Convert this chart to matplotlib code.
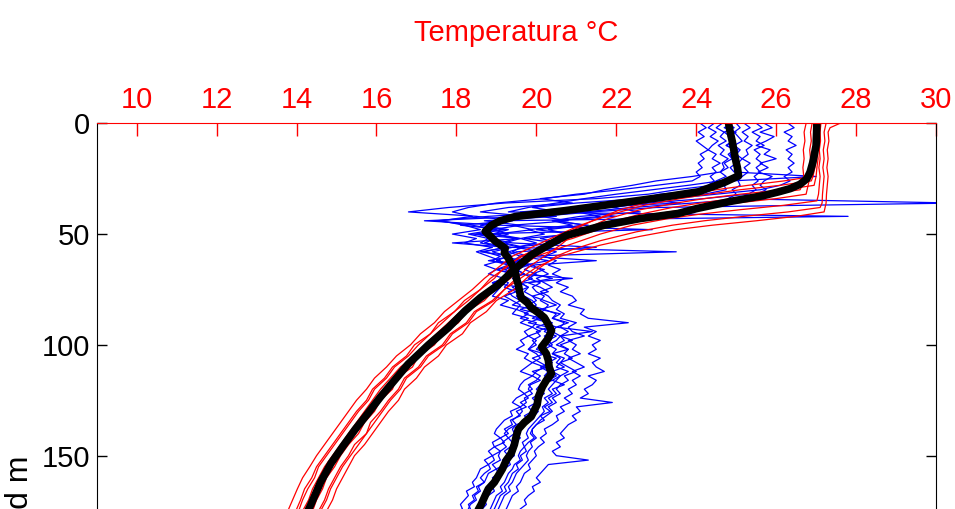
import numpy as np
import matplotlib
matplotlib.use("Agg")
import matplotlib.pyplot as plt

plt.rcParams['font.family'] = ['Liberation Sans', 'DejaVu Sans']

# temperature profiles (depth m, temperature C)
red_1 = [(0, 27.08), (4, 27.05), (8, 27.06), (12, 27.03), (16, 27.05), (20, 27.02), (24, 27.0), (28, 26.95),
         (30, 26.2), (32, 25.1), (34, 24.2), (36, 23.5), (39, 22.6), (43, 21.8), (48, 21.2), (52, 20.8),
         (55, 20.6), (60, 20.2), (65, 19.8), (70, 19.5), (75, 19.2), (80, 18.9), (85, 18.45), (90, 18.25),
         (95, 17.85), (100, 17.65), (105, 17.25), (110, 17.05), (115, 16.7), (120, 16.55), (125, 16.3),
         (130, 16.1), (135, 15.85), (140, 15.75), (145, 15.45), (150, 15.3), (155, 15.1), (160, 14.95),
         (165, 14.8), (170, 14.7), (175, 14.55), (180, 14.45)]
red_2 = [(0, 26.9), (4, 26.86), (8, 26.88), (12, 26.84), (16, 26.86), (20, 26.83), (24, 26.85), (28, 26.8),
         (32, 26.75), (34, 26.0), (36, 25.0), (38, 24.1), (40, 23.3), (43, 22.5), (47, 21.7), (52, 20.9),
         (55, 20.3), (60, 19.6), (65, 19.25), (70, 18.85), (75, 18.6), (80, 18.2), (85, 17.95), (90, 17.55),
         (95, 17.35), (100, 16.95), (105, 16.75), (110, 16.4), (115, 16.2), (120, 15.9), (125, 15.75),
         (130, 15.5), (135, 15.3), (140, 15.1), (145, 14.9), (150, 14.7), (155, 14.5), (160, 14.38),
         (165, 14.2), (170, 14.1), (175, 13.98), (180, 13.85)]
red_3 = [(0, 27.25), (4, 27.2), (8, 27.22), (12, 27.18), (16, 27.2), (20, 27.17), (24, 27.2), (28, 27.18),
         (32, 27.16), (36, 27.15), (38, 27.1), (40, 26.3), (42, 25.2), (44, 24.2), (46, 23.4), (49, 22.5),
         (53, 21.6), (57, 20.9), (60, 20.5), (65, 20.1), (70, 19.75), (75, 19.45), (80, 19.0), (85, 18.75),
         (90, 18.35), (95, 18.15), (100, 17.75), (105, 17.55), (110, 17.2), (115, 17.0), (120, 16.7),
         (125, 16.55), (130, 16.3), (135, 16.1), (140, 15.9), (145, 15.7), (150, 15.45), (155, 15.3),
         (160, 15.15), (165, 15.0), (170, 14.9), (175, 14.75), (180, 14.65)]
red_4 = [(0, 27.0), (4, 26.96), (8, 26.98), (12, 26.94), (16, 26.96), (20, 26.93), (24, 26.92), (26, 26.88),
         (28, 26.1), (30, 25.1), (32, 24.3), (34, 23.6), (37, 22.7), (41, 21.9), (46, 21.1), (50, 20.6),
         (55, 20.0), (60, 19.4), (65, 19.05), (70, 18.7), (75, 18.4), (80, 18.05), (85, 17.7), (90, 17.45),
         (95, 17.1), (100, 16.85), (105, 16.5), (110, 16.25), (115, 15.95), (120, 15.75), (125, 15.5),
         (130, 15.3), (135, 15.1), (140, 14.9), (145, 14.7), (150, 14.5), (155, 14.33), (160, 14.15),
         (165, 14.02), (170, 13.9), (175, 13.78), (180, 13.65)]
red_5 = [(0, 27.12), (4, 27.1), (8, 27.11), (12, 27.08), (16, 27.1), (20, 27.07), (24, 27.1), (28, 27.08),
         (32, 27.06), (35, 27.02), (37, 26.2), (39, 25.1), (41, 24.1), (43, 23.3), (46, 22.4), (50, 21.6),
         (55, 20.8), (60, 20.0), (65, 19.6), (70, 19.35), (75, 18.95), (80, 18.7), (85, 18.25), (90, 18.05),
         (95, 17.65), (100, 17.45), (105, 17.05), (110, 16.9), (115, 16.5), (120, 16.4), (125, 16.1),
         (130, 15.95), (135, 15.7), (140, 15.55), (145, 15.3), (150, 15.1), (155, 14.95), (160, 14.75),
         (165, 14.65), (170, 14.5), (175, 14.4), (180, 14.25)]
red_6 = [(0, 26.75), (4, 26.7), (8, 26.72), (12, 26.68), (16, 26.7), (20, 26.67), (24, 26.69), (28, 26.65),
         (30, 26.6), (32, 25.8), (34, 24.9), (36, 24.1), (38, 23.4), (41, 22.6), (45, 21.8), (50, 21.0),
         (55, 20.4), (60, 19.8), (65, 19.35), (70, 19.15), (75, 18.8), (80, 18.45), (85, 18.1), (90, 17.8),
         (95, 17.5), (100, 17.2), (105, 16.95), (110, 16.6), (115, 16.35), (120, 16.1), (125, 15.9),
         (130, 15.7), (135, 15.5), (140, 15.3), (145, 15.1), (150, 14.9), (155, 14.7), (160, 14.55),
         (165, 14.4), (170, 14.3), (175, 14.15), (180, 14.05)]
red_7 = [(0, 27.6), (2, 27.35), (4, 27.3), (8, 27.32), (12, 27.28), (16, 27.3), (20, 27.27), (24, 27.3),
         (28, 27.28), (32, 27.26), (36, 27.25), (40, 27.2), (42, 26.5), (44, 25.5), (46, 24.4), (48, 23.5),
         (51, 22.6), (55, 21.6), (60, 20.6), (65, 20.0), (70, 19.6), (75, 19.2), (80, 18.95), (85, 18.5),
         (90, 18.3), (95, 17.9), (100, 17.7), (105, 17.3), (110, 17.1), (115, 16.75), (120, 16.6),
         (125, 16.35), (130, 16.15), (135, 15.95), (140, 15.75), (145, 15.55), (150, 15.35), (155, 15.15),
         (160, 15.0), (165, 14.85), (170, 14.75), (175, 14.6), (180, 14.5)]
red_8 = [(0, 27.05), (4, 27.0), (8, 27.02), (12, 26.98), (16, 27.0), (20, 26.97), (24, 26.92), (26, 26.2),
         (28, 25.3), (30, 24.5), (32, 23.8), (35, 22.9), (39, 22.1), (44, 21.4), (50, 20.7), (55, 20.15),
         (60, 19.65), (65, 19.2), (70, 18.95), (75, 18.6), (80, 18.3), (85, 17.95), (90, 17.65), (95, 17.35),
         (100, 17.05), (105, 16.8), (110, 16.45), (115, 16.25), (120, 15.95), (125, 15.8), (130, 15.55),
         (135, 15.35), (140, 15.15), (145, 14.95), (150, 14.75), (155, 14.55), (160, 14.45), (165, 14.28),
         (170, 14.15), (175, 14.05), (180, 13.9)]
red_profiles = [red_1, red_2, red_3, red_4, red_5, red_6, red_7, red_8]

red_mean = [(0, 27.02), (10, 27.0), (17.5, 26.92), (22, 26.85), (25, 26.77), (27.5, 26.6), (29.5, 26.35),
            (31, 26.05), (32.7, 25.67), (34, 25.25), (35.3, 24.84), (37, 24.4), (38.5, 24.01), (40.7, 23.55),
            (43, 22.6), (46, 21.7), (50.6, 20.75), (55, 20.3), (59.5, 19.87), (66, 19.45), (73, 19.04),
            (78.7, 18.6), (84.6, 18.22), (92.2, 17.8), (100, 17.3), (108.7, 16.79), (116, 16.45),
            (123.5, 16.1), (131, 15.78), (138.3, 15.46), (146, 15.15), (153.5, 14.86), (162, 14.6),
            (172, 14.36), (180, 14.15)]

# second set of profiles, sampled every 2 m
blue_depth = list(range(0, 182, 2))
blue_1 = [24.1, 24.25, 24.05, 24.2, 24.0, 24.15, 24.3, 24.1, 24.2, 24.05,
          24.15, 24.0, 24.1, 23.9, 23.0, 22.1, 21.0, 20.2, 19.0, 18.3,
          17.9, 18.4, 17.6, 18.2, 18.6, 17.9, 18.5, 18.2, 18.9, 18.5,
          18.8, 19.1, 18.7, 19.0, 18.8, 19.2, 18.9, 19.1, 19.0, 18.9,
          19.3, 19.1, 19.5, 19.4, 19.8, 19.6, 19.9, 19.7, 19.8, 19.6,
          19.7, 19.5, 19.8, 19.7, 19.9, 19.75, 19.6, 19.9, 19.7, 19.6,
          19.55, 19.7, 19.5, 19.4, 19.6, 19.35, 19.4, 19.2, 19.1, 19.0,
          18.95, 19.1, 18.9, 18.95, 18.8, 18.9, 18.7, 18.8, 18.6, 18.55,
          18.5, 18.4, 18.45, 18.25, 18.3, 18.2, 18.1, 18.15, 17.95, 17.9,
          17.85]
blue_2 = [24.45, 24.3, 24.5, 24.35, 24.55, 24.4, 24.3, 24.5, 24.4, 24.6,
          24.4, 24.5, 24.35, 24.45, 24.3, 24.2, 23.1, 22.6, 21.0, 19.9,
          20.6, 18.8, 17.5, 18.4, 19.0, 18.3, 18.8, 18.6, 19.2, 18.7,
          19.1, 18.9, 19.3, 19.0, 19.4, 19.1, 19.3, 19.2, 19.5, 19.2,
          19.4, 19.6, 19.5, 19.8, 19.6, 20.0, 19.9, 20.1, 19.8, 20.0,
          19.9, 19.8, 20.0, 20.1, 19.9, 20.2, 20.0, 19.9, 20.1, 19.85,
          19.8, 19.9, 19.7, 19.75, 19.6, 19.65, 19.55, 19.4, 19.5, 19.3,
          19.2, 19.3, 19.15, 19.25, 19.1, 19.05, 19.1, 18.9, 19.0, 18.8,
          18.75, 18.7, 18.55, 18.6, 18.45, 18.5, 18.35, 18.3, 18.25, 18.1,
          18.05]
blue_3 = [24.65, 24.5, 24.7, 24.6, 24.75, 24.55, 24.7, 24.6, 24.8, 24.65,
          24.7, 24.6, 24.75, 24.5, 24.4, 23.5, 22.8, 21.5, 19.2, 17.8,
          16.8, 18.5, 19.4, 18.1, 19.2, 18.5, 19.0, 18.7, 19.4, 18.9,
          19.3, 19.0, 19.6, 19.2, 19.5, 20.9, 19.7, 19.4, 19.6, 19.5,
          19.7, 19.9, 19.6, 20.1, 19.9, 20.3, 20.0, 20.4, 20.2, 20.3,
          20.1, 20.0, 20.3, 20.2, 20.4, 20.1, 20.3, 20.2, 20.4, 20.1,
          20.0, 20.1, 19.9, 20.0, 19.8, 19.9, 19.7, 19.8, 19.5, 19.4,
          19.45, 19.3, 19.4, 19.35, 19.2, 19.3, 19.15, 19.2, 19.0, 19.05,
          18.9, 19.0, 18.8, 18.7, 18.75, 18.6, 18.65, 18.5, 18.45, 18.4,
          18.3]
blue_4 = [24.8, 24.95, 24.7, 24.85, 24.9, 24.75, 24.95, 24.8, 24.9, 25.0,
          24.85, 24.95, 27.0, 24.9, 24.7, 24.75, 24.2, 22.5, 23.6, 21.0,
          19.6, 20.5, 18.7, 19.6, 18.9, 19.3, 18.8, 19.4, 21.5, 19.5,
          19.2, 19.6, 19.3, 19.5, 19.7, 19.4, 19.6, 19.8, 19.5, 19.7,
          19.9, 20.0, 19.8, 20.2, 20.0, 20.4, 20.3, 20.2, 20.5, 20.3,
          20.4, 20.2, 20.1, 20.5, 20.3, 20.2, 20.4, 20.5, 20.3, 20.2,
          20.1, 20.2, 20.0, 20.1, 19.9, 20.05, 19.95, 19.8, 19.7, 19.6,
          19.5, 19.6, 19.45, 19.5, 19.4, 19.45, 19.3, 19.35, 19.2, 19.1,
          19.05, 19.0, 18.9, 18.95, 18.8, 18.7, 18.75, 18.65, 18.55, 18.5,
          18.45]
blue_5 = [25.0, 25.1, 24.95, 25.05, 25.15, 24.95, 25.1, 25.0, 25.15, 25.05,
          25.1, 25.0, 25.15, 25.05, 25.1, 24.9, 25.0, 24.8, 30.5, 23.0,
          21.4, 20.1, 20.8, 19.4, 19.9, 19.0, 19.6, 19.2, 19.7, 19.3,
          19.6, 19.4, 19.8, 19.5, 19.7, 19.9, 19.6, 19.8, 19.7, 19.9,
          20.0, 19.8, 20.2, 20.1, 20.3, 20.2, 20.5, 20.4, 20.6, 20.5,
          20.3, 20.5, 20.4, 20.6, 20.5, 20.7, 20.4, 20.6, 20.5, 20.4,
          20.3, 20.4, 20.2, 20.3, 20.15, 20.2, 20.1, 20.0, 19.9, 19.8,
          19.75, 19.8, 19.65, 19.7, 19.6, 19.55, 19.6, 19.45, 19.4, 19.3,
          19.25, 19.2, 19.1, 19.15, 19.0, 18.95, 18.9, 18.85, 18.8, 18.7,
          18.65]
blue_6 = [25.2, 25.35, 25.15, 25.3, 25.2, 25.4, 25.25, 25.3, 25.15, 25.35,
          25.2, 25.3, 25.15, 24.6, 23.8, 22.9, 22.0, 21.2, 20.5, 19.8,
          19.3, 27.8, 19.0, 18.6, 19.3, 18.9, 19.5, 19.1, 19.6, 19.4,
          19.8, 19.5, 19.9, 19.7, 20.0, 19.8, 20.1, 19.9, 20.0, 20.2,
          20.1, 20.3, 20.2, 20.5, 20.4, 20.7, 20.6, 20.8, 20.6, 20.9,
          20.6, 20.8, 20.7, 20.9, 20.6, 20.8, 21.0, 20.7, 20.8, 20.6,
          20.5, 20.6, 20.4, 20.5, 20.3, 20.4, 20.25, 20.1, 20.0, 19.9,
          19.9, 20.0, 19.85, 19.9, 19.8, 19.75, 19.8, 19.7, 19.6, 19.5,
          19.45, 19.4, 19.3, 19.35, 19.2, 19.15, 19.1, 19.05, 18.95, 18.9,
          18.85]
blue_7 = [25.5, 25.65, 25.4, 25.6, 25.5, 25.7, 25.45, 25.6, 25.5, 25.65,
          25.5, 25.6, 25.45, 25.55, 25.4, 25.5, 25.3, 24.2, 22.8, 21.9,
          22.6, 21.1, 20.4, 20.9, 19.8, 20.2, 19.6, 20.0, 19.5, 20.1,
          19.8, 21.5, 19.9, 20.1, 20.3, 20.0, 20.2, 20.4, 20.1, 20.3,
          20.4, 20.6, 20.5, 20.7, 20.6, 21.0, 20.8, 20.9, 21.2, 20.8,
          21.0, 20.9, 21.1, 20.8, 21.0, 21.2, 20.9, 21.1, 20.9, 21.0,
          20.8, 20.9, 20.7, 20.85, 20.6, 20.7, 20.5, 20.55, 20.4, 20.2,
          20.25, 20.1, 20.2, 20.05, 19.95, 20.0, 19.9, 19.8, 19.85, 19.7,
          19.65, 19.6, 19.5, 19.55, 19.4, 19.35, 19.3, 19.25, 19.15, 19.1,
          19.05]
blue_8 = [26.3, 26.45, 26.2, 26.4, 26.3, 26.5, 26.25, 26.4, 26.3, 26.45,
          26.3, 26.4, 26.2, 26.35, 26.1, 25.6, 24.5, 23.4, 22.6, 21.6,
          21.0, 21.6, 20.5, 21.2, 20.3, 20.8, 20.1, 20.6, 20.0, 20.5,
          20.2, 20.5, 20.3, 20.6, 20.4, 20.7, 20.5, 20.8, 20.6, 20.9,
          21.0, 20.8, 21.2, 21.1, 21.3, 22.3, 21.2, 21.5, 21.3, 21.6,
          21.4, 21.5, 21.3, 21.6, 21.4, 21.5, 21.7, 21.3, 21.5, 21.4,
          21.2, 21.3, 21.1, 21.9, 21.0, 21.1, 20.9, 21.0, 20.8, 20.7,
          20.6, 20.7, 20.5, 20.6, 20.4, 20.5, 21.3, 20.3, 20.2, 20.1,
          20.0, 20.1, 19.9, 19.95, 19.8, 19.7, 19.75, 19.6, 19.5, 19.45,
          19.4]
blue_9 = [24.9, 24.7, 25.0, 24.8, 24.95, 24.75, 25.05, 24.85, 24.9, 24.7,
          24.8, 24.6, 23.9, 23.0, 22.4, 21.7, 21.2, 20.1, 20.9, 19.3,
          18.6, 19.8, 17.2, 19.1, 22.9, 18.4, 19.6, 17.9, 19.3, 18.6,
          19.4, 18.8, 19.6, 19.0, 19.5, 19.2, 18.9, 19.6, 19.3, 19.4,
          19.6, 19.4, 19.9, 19.7, 20.1, 19.8, 20.3, 20.0, 20.1, 19.9,
          20.0, 19.8, 20.2, 19.9, 20.1, 20.3, 19.9, 20.1, 20.0, 19.8,
          19.9, 19.7, 19.8, 19.6, 19.75, 19.5, 19.6, 19.35, 19.4, 19.2,
          19.3, 19.1, 19.2, 18.95, 19.1, 18.9, 18.95, 18.8, 18.85, 18.7,
          18.6, 18.7, 18.5, 18.55, 18.4, 18.45, 18.3, 18.35, 18.2, 18.15,
          18.1]
blue_10 = [25.7, 25.9, 25.6, 25.95, 25.75, 25.5, 25.85, 25.7, 26.0, 25.6,
           25.8, 25.55, 25.9, 25.7, 25.6, 25.75, 25.5, 25.3, 23.9, 22.4,
           21.2, 22.0, 20.4, 21.3, 20.0, 20.9, 19.7, 20.5, 19.4, 23.5,
           19.6, 20.3, 19.7, 20.2, 19.9, 20.4, 19.8, 20.1, 20.3, 19.9,
           20.2, 20.5, 20.1, 20.6, 20.4, 20.8, 20.5, 21.4, 20.6, 20.7,
           20.5, 20.8, 20.4, 20.7, 20.6, 20.5, 20.8, 20.6, 20.4, 20.7,
           20.4, 20.5, 20.3, 20.4, 20.2, 20.35, 20.1, 20.2, 20.0, 19.9,
           19.85, 19.95, 19.8, 19.7, 19.75, 19.6, 19.65, 19.5, 19.55, 19.4,
           19.35, 19.3, 19.2, 19.25, 19.1, 19.05, 19.0, 18.95, 18.85, 18.8,
           18.75]
blue_profiles = [blue_1, blue_2, blue_3, blue_4, blue_5, blue_6, blue_7, blue_8, blue_9, blue_10]

blue_mean = [(0, 24.81), (4, 24.85), (8, 24.9), (12, 24.94), (16, 24.98), (20, 25.03), (23.7, 25.06),
             (26.8, 24.69), (29, 24.35), (30.9, 24.06), (33, 23.3), (35.3, 22.38), (37.5, 21.5),
             (39.4, 20.73), (42.1, 19.47), (44, 19.1), (46.1, 18.87), (48.8, 18.72), (51, 18.85),
             (53.2, 18.97), (56.4, 19.22), (58.5, 19.2), (60.9, 19.3), (63.5, 19.38), (66.7, 19.47),
             (70, 19.5), (72.9, 19.55), (76, 19.58), (78.7, 19.62), (81, 19.78), (83.2, 19.87),
             (85.5, 20.05), (87.7, 20.2), (90.8, 20.3), (93.5, 20.38), (97, 20.3), (101, 20.13),
             (104, 20.25), (107, 20.3), (110, 20.32), (113, 20.38), (116, 20.25), (119, 20.15),
             (123.5, 20.05), (127, 20.02), (132.4, 19.87), (135, 19.7), (138, 19.55), (141, 19.5),
             (145, 19.45), (149, 19.37), (152, 19.25), (156, 19.15), (159, 19.05), (162, 18.95),
             (165, 18.8), (168, 18.72), (172, 18.62), (176, 18.5), (180, 18.4)]

temp_ticks = [10, 12, 14, 16, 18, 20, 22, 24, 26, 28, 30]
depth_ticks = [0, 50, 100, 150]

fig = plt.figure(figsize=(9.55, 5.09), dpi=100)
ax = fig.add_axes([0.1013, -0.1129, 0.8788, 0.8707])

for prof in blue_profiles:
    ax.plot(prof, blue_depth, color="#0000FF", linewidth=0.9)
for prof in red_profiles:
    d, t = np.array(prof).T
    ax.plot(t, d, color="#FF0000", linewidth=0.9)
for prof in [blue_mean, red_mean]:
    d, t = np.array(prof).T
    ax.plot(t, d, color="black", linewidth=5.5, solid_capstyle="round", solid_joinstyle="round")

ax.set_xlim(9, 30)
ax.set_ylim(200, 0)
ax.set_xticks(temp_ticks)
ax.set_yticks(depth_ticks)
ax.xaxis.tick_top()
ax.xaxis.set_label_position("top")
ax.tick_params(axis="x", direction="in", length=9, width=1, colors="red",
               labelsize=21, pad=7, top=True, bottom=False)
ax.tick_params(axis="y", direction="in", length=7, width=1, colors="black",
               labelsize=21, pad=5, left=True, right=True)
ax.spines["top"].set_color("red")
for s in ["left", "right", "bottom"]:
    ax.spines[s].set_color("black")

ax.set_xlabel("Temperatura °C", color="red", fontsize=21, labelpad=32)
fig.text(0.021, 0.106, "Profundidad m", rotation=90, ha="center", va="top", fontsize=23)

fig.savefig("out.png", dpi=100)
